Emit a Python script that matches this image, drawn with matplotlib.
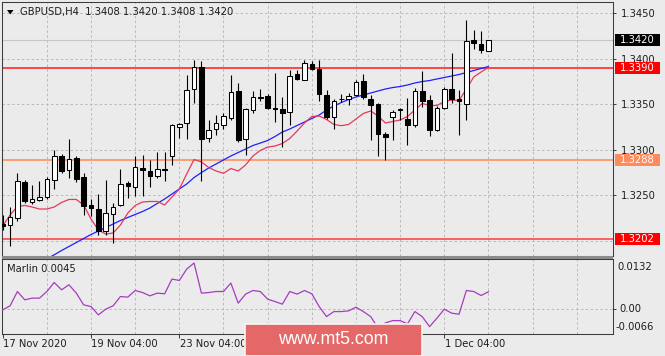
import matplotlib
matplotlib.use('Agg')
import matplotlib.pyplot as plt
from matplotlib.patches import Rectangle, Polygon
import numpy as np

W, H = 665, 356

# ---------------- data ----------------
opens = [1.3218, 1.3217, 1.3225, 1.3264, 1.3242, 1.3245, 1.3248, 1.3267, 1.3293, 1.3277,
         1.3291, 1.3270, 1.3239, 1.3235, 1.3210, 1.3229, 1.3239, 1.3263, 1.3259, 1.3280,
         1.3276, 1.3271, 1.3279, 1.3293, 1.3325, 1.3329, 1.3366, 1.3391, 1.3313, 1.3322,
         1.3327, 1.3335, 1.3364, 1.3312, 1.3343, 1.3358, 1.3359, 1.3346, 1.3345, 1.3341,
         1.3383, 1.3376, 1.3394, 1.3388, 1.3360, 1.3336, 1.3355, 1.3356, 1.3360, 1.3375,
         1.3356, 1.3350, 1.3317, 1.3336, 1.3343, 1.3334, 1.3327, 1.3364, 1.3354, 1.3321,
         1.3346, 1.3367, 1.3355, 1.3350, 1.3420, 1.3416, 1.3408]
highs = [1.3228, 1.3237, 1.3274, 1.3267, 1.3261, 1.3265, 1.3270, 1.3299, 1.3295, 1.3312,
         1.3293, 1.3274, 1.3246, 1.3251, 1.3267, 1.3241, 1.3279, 1.3265, 1.3293, 1.3294,
         1.3289, 1.3297, 1.3297, 1.3328, 1.3329, 1.3382, 1.3398, 1.3397, 1.3332, 1.3338,
         1.3340, 1.3382, 1.3373, 1.3346, 1.3364, 1.3366, 1.3361, 1.3384, 1.3358, 1.3387,
         1.3387, 1.3398, 1.3397, 1.3398, 1.3365, 1.3356, 1.3361, 1.3362, 1.3376, 1.3383,
         1.3360, 1.3351, 1.3319, 1.3343, 1.3346, 1.3357, 1.3368, 1.3386, 1.3360, 1.3348,
         1.3369, 1.3406, 1.3365, 1.3442, 1.3431, 1.3430, 1.3420]
lows = [1.3212, 1.3194, 1.3221, 1.3241, 1.3240, 1.3243, 1.3246, 1.3257, 1.3274, 1.3269,
        1.3264, 1.3228, 1.3227, 1.3206, 1.3206, 1.3197, 1.3238, 1.3247, 1.3249, 1.3249,
        1.3259, 1.3269, 1.3265, 1.3283, 1.3313, 1.3312, 1.3351, 1.3265, 1.3308, 1.3316,
        1.3322, 1.3332, 1.3308, 1.3294, 1.3340, 1.3353, 1.3345, 1.3330, 1.3303, 1.3327,
        1.3376, 1.3376, 1.3387, 1.3353, 1.3334, 1.3323, 1.3352, 1.3349, 1.3359, 1.3356,
        1.3310, 1.3293, 1.3289, 1.3310, 1.3332, 1.3305, 1.3325, 1.3347, 1.3315, 1.3320,
        1.3344, 1.3351, 1.3316, 1.3332, 1.3410, 1.3406, 1.3408]
closes = [1.3216, 1.3226, 1.3265, 1.3243, 1.3246, 1.3248, 1.3268, 1.3293, 1.3276, 1.3290,
          1.3268, 1.3238, 1.3236, 1.3210, 1.3230, 1.3237, 1.3262, 1.3260, 1.3281, 1.3277,
          1.3271, 1.3279, 1.3277, 1.3327, 1.3328, 1.3365, 1.3391, 1.3312, 1.3321, 1.3329,
          1.3337, 1.3363, 1.3310, 1.3344, 1.3358, 1.3357, 1.3346, 1.3345, 1.3340, 1.3381,
          1.3377, 1.3395, 1.3388, 1.3361, 1.3336, 1.3353, 1.3356, 1.3359, 1.3374, 1.3358,
          1.3349, 1.3317, 1.3314, 1.3341, 1.3344, 1.3327, 1.3364, 1.3353, 1.3321, 1.3346,
          1.3367, 1.3355, 1.3353, 1.3419, 1.3417, 1.3409, 1.3420]

# slow moving average (blue), visible from bar 6
ma_slow_start = 6
ma_slow = [1.31797, 1.31843, 1.31890, 1.31934, 1.31978, 1.32022, 1.32066, 1.32104, 1.32143, 1.32181,
           1.32220, 1.32253, 1.32286, 1.32319, 1.32357, 1.32407, 1.32456, 1.32511, 1.32566, 1.32621,
           1.32692, 1.32747, 1.32797, 1.32841, 1.32885, 1.32929, 1.32967, 1.33005, 1.33044, 1.33071,
           1.33099, 1.33143, 1.33192, 1.33225, 1.33264, 1.33302, 1.33341, 1.33379, 1.33434, 1.33478,
           1.33516, 1.33549, 1.33577, 1.33599, 1.33621, 1.33643, 1.33665, 1.33681, 1.33692, 1.33709,
           1.33731, 1.33747, 1.33758, 1.33775, 1.33791, 1.33808, 1.33824, 1.33846, 1.33868, 1.33890,
           1.33912]
# fast moving average (red)
ma_fast = [1.32159, 1.32280, 1.32374, 1.32385, 1.32368, 1.32346, 1.32346, 1.32368, 1.32418, 1.32451,
           1.32451, 1.32390, 1.32236, 1.32115, 1.32071, 1.32082, 1.32170, 1.32302, 1.32385, 1.32423,
           1.32429, 1.32429, 1.32390, 1.32478, 1.32566, 1.32731, 1.32890, 1.32863, 1.32802, 1.32764,
           1.32738, 1.32791, 1.32764, 1.32830, 1.32929, 1.32989, 1.33027, 1.33038, 1.33066, 1.33121,
           1.33203, 1.33291, 1.33363, 1.33368, 1.33330, 1.33275, 1.33262, 1.33275, 1.33335, 1.33396,
           1.33423, 1.33368, 1.33291, 1.33308, 1.33324, 1.33363, 1.33434, 1.33505, 1.33484, 1.33484,
           1.33527, 1.33544, 1.33538, 1.33665, 1.33797, 1.33852, 1.33903]
# Marlin oscillator
marlin = [-0.00032, 0.00075, 0.00456, 0.00235, 0.00280, 0.00280, 0.00456, 0.00696, 0.00501, 0.00635,
          0.00413, 0.00101, 0.00056, -0.00165, -0.00013, 0.00075, 0.00323, 0.00307, 0.00483, 0.00429,
          0.00341, 0.00413, 0.00395, 0.00787, 0.00749, 0.01053, 0.01213, 0.00413, 0.00429, 0.00456,
          0.00456, 0.00680, 0.00147, 0.00387, 0.00483, 0.00456, 0.00253, 0.00189, 0.00120, 0.00456,
          0.00387, 0.00483, 0.00395, 0.00056, -0.00211, -0.00077, -0.00077, -0.00059, 0.00040, -0.00077,
          -0.00211, -0.00512, -0.00379, -0.00317, -0.00317, -0.00405, -0.00077, -0.00211, -0.00477, -0.00253,
          -0.00013, -0.00120, -0.00147, 0.00483, 0.00456, 0.00349, 0.00450]

price_ticks = [1.3250, 1.3300, 1.3350, 1.3400, 1.3450]
date_idx = [0, 12, 24, 36, 48, 60]
# labels at bars 36 and 48 are hidden under the watermark in the reference
date_labels = ['17 Nov 2020', '19 Nov 04:00', '23 Nov 04:00', '', '', '1 Dec 04:00']
grid_idx = [6, 12, 18, 24, 30, 36, 42, 48, 54, 60, 66, 72, 78]
bid_price = 1.3420
level_prices = [1.3390, 1.3288, 1.3202]
level_line_colors = ['#ff1a1a', '#ff8855', '#ff3b3b']
level_box_colors = ['#ff0000', '#ff8a5a', '#ff0000']
osc_ticks = [0.0132, 0.00, -0.0066]
osc_labels = ['0.0132', '0.00', '-0.0066']
title_text = 'GBPUSD,H4  1.3408 1.3420 1.3408 1.3420'
osc_title = 'Marlin 0.0045'
watermark = 'www.mt5.com'

# ---------------- style ----------------
BG = '#ebebeb'
SPINE = '#3c3c3c'
GRID = '#b9b9b9'
TXT = '#1e1e1e'
FS = 7.2
plt.rcParams['font.family'] = ['DejaVu Sans']

fig = plt.figure(figsize=(W / 100, H / 100), dpi=100)
fig.patch.set_facecolor(BG)


def fr(x0, y0, x1, y1):
    return [x0 / W, 1 - y1 / H, (x1 - x0) / W, (y1 - y0) / H]


ax = fig.add_axes(fr(2, 2, 613, 256))
ax2 = fig.add_axes(fr(2, 259, 613, 333.5))

n = len(opens)
idx = np.arange(n)
xmin = -0.095
xmax = xmin + 611 / 7.36

for a in (ax, ax2):
    a.set_facecolor(BG)
    a.set_xlim(xmin, xmax)
    for s in a.spines.values():
        s.set_color(SPINE)
        s.set_linewidth(0.75)
    for gi in grid_idx:
        a.axvline(gi, color=GRID, lw=0.7, ls=(0, (2.5, 2.5)), zorder=0)

ax.set_ylim(1.318297, 1.346209)
ax2.set_ylim(-0.0066, 0.0132)

# horizontal grid in main panel
for p in price_ticks + [1.3200]:
    ax.axhline(p, color=GRID, lw=0.7, ls=(0, (2.5, 2.5)), zorder=0)
ax2.axhline(0.0, color=GRID, lw=0.7, ls=(0, (2.5, 2.5)), zorder=0)

# bid line
ax.axhline(bid_price, color='#c6c6c6', lw=0.8, zorder=1)

# level lines
for p, c in zip(level_prices, level_line_colors):
    ax.axhline(p, color=c, lw=1.1, zorder=2)

# moving averages
ax.plot(idx[ma_slow_start:], ma_slow, color='#2020ff', lw=0.9, zorder=3)
ax.plot(idx, ma_fast, color='#e23a5c', lw=0.9, zorder=3)

# candles
for i in range(n):
    o, h, l, c = opens[i], highs[i], lows[i], closes[i]
    ax.vlines(i, l, h, color='black', lw=0.8, zorder=4)
    bot = min(o, c)
    ht = max(abs(c - o), 0.00003)
    fc = 'white' if c >= o else 'black'
    ax.bar(i, ht, bottom=bot, width=0.62, facecolor=fc, edgecolor='black',
           linewidth=0.75, zorder=5)

# price axis on the right
ax.set_xticks([])
ax.yaxis.tick_right()
ax.set_yticks(price_ticks)
ax.set_yticklabels(['%.4f' % p for p in price_ticks])
ax.tick_params(axis='y', direction='out', length=2.5, width=0.7, color=SPINE,
               labelsize=FS, labelcolor=TXT, pad=3)

ytr = ax.get_yaxis_transform()
bx0 = (615 - 2) / 611
bw = 45 / 611
hh = 6 / 9100
tx = (619.5 - 2) / 611
boxes = [(bid_price, 'black')] + list(zip(level_prices, level_box_colors))
for p, c in boxes:
    ax.add_patch(Rectangle((bx0, p - hh), bw, 2 * hh, transform=ytr, facecolor=c,
                           edgecolor='none', clip_on=False, zorder=10))
    ax.text(tx, p, '%.4f' % p, transform=ytr, ha='left', va='center', color='white',
            fontsize=FS, zorder=11, clip_on=False)

# oscillator
ax2.plot(idx, marlin, color='#a63cc0', lw=0.9, zorder=3)
ax2.set_yticks([0.0])
ax2.set_yticklabels([])
ax2.yaxis.tick_right()
ax2.tick_params(axis='y', direction='out', length=2.5, width=0.7, color=SPINE)
ax2.set_xticks(date_idx)
ax2.set_xticklabels([])
ax2.tick_params(axis='x', direction='out', length=3, width=0.7, color=SPINE)

osc_label_y = [266.7, None, 327.3]
for v, lab, py in zip(osc_ticks, osc_labels, osc_label_y):
    if py is None:
        ax2.text(tx, v, lab, transform=ax2.get_yaxis_transform(), ha='left', va='center',
                 fontsize=FS, color=TXT, clip_on=False)
    else:
        fig.text((617 if not lab.startswith('-') else 615.5) / W, 1 - py / H, lab,
                 ha='left', va='center', fontsize=FS, color=TXT)

xtr = ax2.get_xaxis_transform()
for i, lab in zip(date_idx, date_labels):
    if lab:
        ax2.text(i + 0.05, -0.14, lab, transform=xtr, ha='left', va='center',
                 fontsize=FS, color=TXT, clip_on=False)

# separator between panels
fig.patches.append(Rectangle((2 / W, 1 - 259 / H), 611 / W, 3 / H, transform=fig.transFigure,
                             facecolor='#8c8c8c', edgecolor='none', zorder=5))

# titles
fig.patches.append(Polygon([[7 / W, 1 - 10 / H], [13.5 / W, 1 - 10 / H], [10.25 / W, 1 - 14.5 / H]],
                           closed=True, transform=fig.transFigure, facecolor='black',
                           edgecolor='none'))
fig.text(20 / W, 1 - 12.3 / H, title_text, ha='left', va='center', fontsize=FS, color=TXT)
fig.text(7 / W, 1 - 269 / H, osc_title, ha='left', va='center', fontsize=FS, color=TXT)

# watermark
wm = Rectangle((245 / W, 0), 177 / W, 1 - 323.5 / H, transform=fig.transFigure,
               facecolor='#e46868', edgecolor='#f6f6f6', linewidth=1.2, zorder=20)
fig.patches.append(wm)
fig.text(333 / W, 1 - 339 / H, watermark, ha='center', va='center', fontsize=12.8,
         color='white', family=['Liberation Sans', 'DejaVu Sans'], zorder=21)

fig.savefig('out.png', dpi=100, facecolor=BG)
